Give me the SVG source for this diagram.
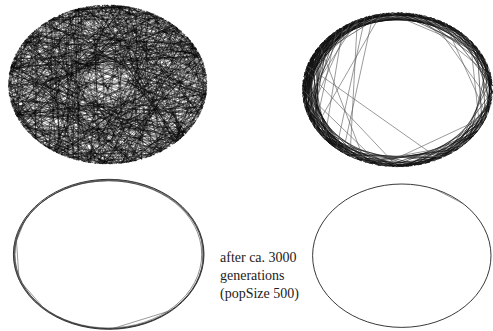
<svg xmlns="http://www.w3.org/2000/svg" width="493" height="331" viewBox="0 0 493 331">
<style>
.dense{stroke:#000;stroke-width:0.45;stroke-opacity:0.78}
.rim{stroke:#111;stroke-width:0.6}
.gray{stroke:#555;stroke-width:0.6}
.opt{stroke:#222;stroke-width:0.9}
.lbl{font-family:"Liberation Serif","Times New Roman",serif;font-size:14px;fill:#222}
</style>
<defs>
<path id="P" fill="none" vector-effect="non-scaling-stroke" d="M99.3,12.2 L-81.9,-57.4 -91.4,40.7 -29.2,-95.6 -35.8,93.4 -99,13.9 34.2,-94 3.5,-99.9 39.1,92.1 96.1,-27.6 94,34.2 -32.6,-94.6 53,84.8 99.5,10.5 -34.2,94 -37.5,-92.7 80.9,-58.8 -17.4,98.5 -98.8,-15.6 51.5,-85.7 -19.1,98.2 -64.3,76.6 -75.5,-65.6 99,13.9 24.2,97 -95.6,-29.2 76.6,64.3 22.5,-97.4 -82.9,-55.9 34.2,94 -100,1.7 82.9,-55.9 -19.1,-98.2 -46.9,88.3 86.6,-50 13.9,99"/>
<path id="Q" fill="none" vector-effect="non-scaling-stroke" d="M-8.7,99.6 L-13.9,-99 78.8,61.6 -50,-86.6 98.5,-17.4 -73.1,68.2 -48.5,-87.5 95.6,29.2 -97.8,20.8 66.9,-74.3 27.6,96.1 -96.1,-27.6 -65.6,-75.5 99.9,3.5 -54.5,83.9 10.5,-99.5 76.6,64.3 -94,34.2 50,-86.6 58.8,80.9 -94,-34.2 29.2,-95.6 -76.6,64.3 89.1,45.4 -97.4,-22.5 -85.7,51.5 17.4,-98.5 34.2,94 -76.6,-64.3 99.6,-8.7 -60.2,79.9 -84.8,-53 -17.4,98.5 -8.7,-99.6 -96.1,27.6 58.8,-80.9"/>
<path id="R" fill="none" vector-effect="non-scaling-stroke" d="M97.8,20.8 L-98.5,-17.4 M68.2,73.1 L-71.9,-69.5 M12.2,99.3 L-20.8,-97.8 M-46.9,88.3 L45.4,-89.1 M-91.4,40.7 L84.8,-53 M-98.8,15.6 L98.5,-17.4 M87.5,48.5 L-90.6,-42.3 M43.8,89.9 L-48.5,-87.5 M-19.1,98.2 L22.5,-97.4 M-75.5,65.6 L70.7,-70.7"/>
<path id="B" fill="none" vector-effect="non-scaling-stroke" d="M100,0 L64.3,76.6 -76.6,64.3 -17.4,98.5 -76.6,-64.3 0,-100 86.6,-50 -50,-86.6 -94,-34.2 17.4,98.5 94,34.2 64.3,-76.6 -17.4,-98.5 -98.5,17.4 -64.3,76.6 76.6,64.3 34.2,94 -98.5,-17.4 34.2,-94 98.5,-17.4 -34.2,-94 -94,34.2 -86.6,-50 -34.2,94 50,86.6 94,-34.2 17.4,-98.5 -86.6,50 0,100 86.6,50 -64.3,-76.6 50,-86.6 -100,0 -50,86.6 98.5,17.4 76.6,-64.3"/>
<path id="C" fill="none" vector-effect="non-scaling-stroke" d="M100,0 L76.6,64.3 98.5,17.4 50,86.6 86.6,50 94,34.2 17.4,98.5 64.3,76.6 -34.2,94 34.2,94 0,100 -76.6,64.3 -17.4,98.5 -94,34.2 -64.3,76.6 -50,86.6 -100,0 -86.6,50 -94,-34.2 -98.5,17.4 -76.6,-64.3 -98.5,-17.4 -50,-86.6 -86.6,-50 -17.4,-98.5 -64.3,-76.6 17.4,-98.5 -34.2,-94 50,-86.6 0,-100 86.6,-50 34.2,-94 64.3,-76.6 98.5,-17.4 76.6,-64.3 94,-34.2 98.5,17.4"/>
<path id="L" fill="none" vector-effect="non-scaling-stroke" d="M-57.4,81.9 L-99.6,8.7 M-98.5,17.4 L-81.9,-57.4 M-76.6,64.3 L-94,-34.2 M-99.6,-8.7 L-57.4,-81.9 M-86.6,50 L-96.6,-25.9 M-94,34.2 L-64.3,-76.6 M-94,-34.2 L-34.2,-94 M-64.3,76.6 L-98.5,-17.4 M-99.6,8.7 L-70.7,-70.7 M-81.9,57.4 L-86.6,-50 M-98.5,-17.4 L-42.3,-90.6 M-70.7,70.7 L-96.6,25.9 M-90.6,-42.3 L-50,-86.6 M-96.6,25.9 L-90.6,-42.3 M-90.6,42.3 L-76.6,-64.3 M-100,0 L-53,-84.8 M-50,86.6 L-97.8,20.8 M-86.6,-50 L-25.9,-96.6"/>
</defs>

<g id="random-tour" transform="translate(107.7,84.5) scale(0.993,0.795)">
<g class="dense">
<use href="#P"/>
<use href="#P" transform="rotate(37)"/>
<use href="#P" transform="rotate(81)"/>
<use href="#P" transform="rotate(152)"/>
<use href="#P" transform="rotate(203)"/>
<use href="#P" transform="rotate(266)"/>
<use href="#P" transform="scale(-1,1) rotate(22)"/>
<use href="#P" transform="scale(-1,1) rotate(131)"/>
<use href="#Q"/>
<use href="#Q" transform="rotate(53)"/>
<use href="#Q" transform="rotate(118)"/>
<use href="#Q" transform="rotate(177)"/>
<use href="#Q" transform="rotate(241)"/>
<use href="#Q" transform="rotate(297)"/>
<use href="#Q" transform="scale(-1,1) rotate(64)"/>
<use href="#R"/>
<use href="#R" transform="rotate(9)"/>
<use href="#R" transform="scale(-1,1) rotate(5)"/>
<use href="#B" transform="rotate(4)"/>
<use href="#C" transform="rotate(3)"/>
<use href="#C" transform="scale(-1,1) rotate(12)"/>
</g>
</g>

<g id="partial-tour" transform="translate(397.5,89.7) scale(0.95,0.77)">
<g class="rim">
<use href="#C"/>
<use href="#C" transform="rotate(13)"/>
<use href="#C" transform="rotate(27)"/>
<use href="#C" transform="rotate(5)"/>
<use href="#C" transform="scale(-1,1) rotate(19)"/>
<use href="#C" transform="scale(-1,1) rotate(33)"/>
<use href="#C" transform="scale(-1,1) rotate(8)"/>
<use href="#L"/>
<use href="#L" transform="rotate(6)"/>
<use href="#L" transform="rotate(-7)"/>
</g>
<path class="gray" fill="none" vector-effect="non-scaling-stroke" d="M-8.7,-99.6 L86.6,-50 M-95.1,-30.9 L43.8,89.9 M76.6,-64.3 L86.6,50 M-57.4,-81.9 L-76.6,64.3 M-42.3,-90.6 L-50,86.6 M-34.2,-94 L-64.3,76.6 M-64.3,-76.6 L-86.6,50 M-81.9,-57.4 L-34.2,94 M-25.9,-96.6 L-57.4,81.9 M34.2,-94 L98.5,17.4 M50,-86.6 L94,34.2 M-17.4,98.5 L94,34.2 M-34.2,94 L70.7,70.7 M-50,86.6 L50,86.6 M-100,0 L-17.4,98.5 M-96.6,-25.9 L0,100 M17.4,-98.5 L98.5,-17.4 M-50,-86.6 L-94,34.2 M-42.3,-90.6 L-98.5,17.4 M-17.4,-98.5 L-86.6,50"/>
</g>

<g id="near-optimal" transform="translate(108.7,254.3) scale(0.953,0.75)">
<g class="opt" fill="none">
<ellipse rx="100" ry="100" vector-effect="non-scaling-stroke"/>
<ellipse rx="98.8" ry="99.2" cx="0.4" vector-effect="non-scaling-stroke" stroke-width="0.6"/>
<ellipse rx="99.4" ry="98.6" cy="0.5" vector-effect="non-scaling-stroke" stroke-width="0.6"/>
<ellipse rx="98.2" ry="98.2" cx="-0.6" vector-effect="non-scaling-stroke" stroke-width="0.5"/>
</g>
<path class="gray" fill="none" vector-effect="non-scaling-stroke" d="M-30.9,-95.1 L8.7,-99.6 M-97.1,-23.9 L-94,34.2 -65.6,75.5 M1.7,100 L66.9,74.3 M97.8,-20.8 L98.5,17.4 M-86.6,-50 L-99.6,-8.7 M70.7,-70.7 L90.6,-42.3"/>
</g>

<g id="optimal" transform="translate(401.8,255.7) scale(0.892,0.717)">
<ellipse class="opt" fill="none" rx="100" ry="100" vector-effect="non-scaling-stroke"/>
<path class="gray" fill="none" vector-effect="non-scaling-stroke" d="M37.5,-92.7 L68.2,-73.1"/>
</g>

<g id="caption">
<text class="lbl" x="220" y="262">after ca. 3000</text>
<text class="lbl" x="220" y="280">generations</text>
<text class="lbl" x="220" y="297.5">(popSize 500)</text>
</g>
</svg>
